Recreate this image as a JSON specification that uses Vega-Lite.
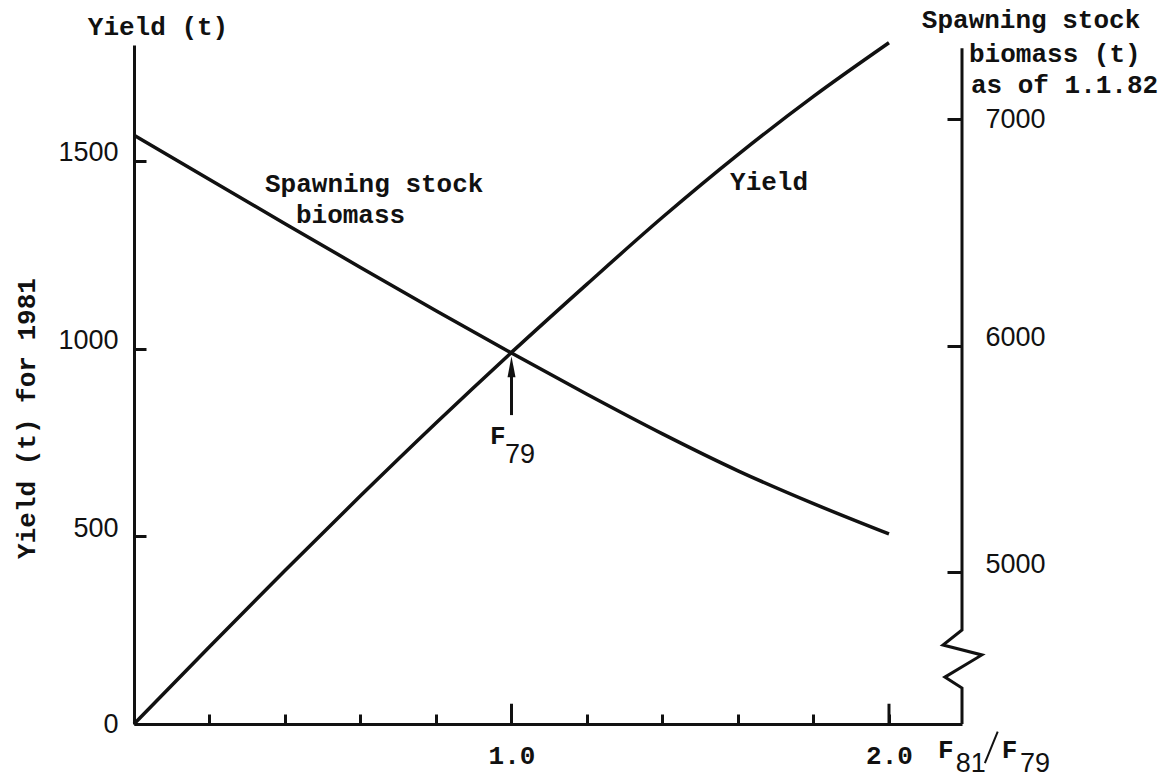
{
  "$schema": "https://vega.github.io/schema/vega-lite/v6.json",
  "width": 828,
  "height": 679,
  "autosize": "none",
  "padding": {"left": 134, "top": 45, "right": 213, "bottom": 56},
  "background": "white",
  "config": {
    "view": {"stroke": null},
    "axis": {"grid": false, "domainColor": "#111", "tickColor": "#111", "labelColor": "#111", "titleColor": "#111"}
  },
  "data": {"values": [{}]},
  "datasets": {
    "curves": [
      {"F": 0, "yield": 0, "ssb": 6929},
      {"F": 0.2, "yield": 206, "ssb": 6733},
      {"F": 0.4, "yield": 409, "ssb": 6538},
      {"F": 0.6, "yield": 608, "ssb": 6345},
      {"F": 0.8, "yield": 802, "ssb": 6154},
      {"F": 1.0, "yield": 990, "ssb": 5967},
      {"F": 1.2, "yield": 1172, "ssb": 5785},
      {"F": 1.4, "yield": 1350, "ssb": 5610},
      {"F": 1.6, "yield": 1517, "ssb": 5447},
      {"F": 1.8, "yield": 1672, "ssb": 5302},
      {"F": 2.0, "yield": 1815, "ssb": 5168}
    ],
    "raxis": [
      {"seq": 1, "F": 2.1934, "v": 7313},
      {"seq": 2, "F": 2.1934, "v": 4744},
      {"seq": 3, "F": 2.143, "v": 4678},
      {"seq": 4, "F": 2.246, "v": 4634},
      {"seq": 5, "F": 2.148, "v": 4536},
      {"seq": 6, "F": 2.1934, "v": 4488},
      {"seq": 7, "F": 2.1934, "v": 4329}
    ],
    "majorticks": [{"F": 1}, {"F": 2}]
  },
  "resolve": {"scale": {"y": "independent"}},
  "layer": [
    {
      "data": {"name": "curves"},
      "mark": {"type": "line", "color": "#111", "strokeWidth": 3.5, "interpolate": "monotone"},
      "encoding": {
        "x": {
          "field": "F", "type": "quantitative",
          "scale": {"domain": [0, 2.1934], "nice": false, "zero": false},
          "axis": {
            "title": null,
            "values": [0.2, 0.4, 0.6, 0.8, 1, 1.2, 1.4, 1.6, 1.8, 2],
            "tickSize": -10, "tickWidth": 3, "domainWidth": 3,
            "labelExpr": "datum.value == 1 || datum.value == 2 ? format(datum.value, '.1f') : ''",
            "labelFont": "Liberation Mono", "labelFontSize": 26, "labelFontWeight": "bold", "labelPadding": 28,
            "labelFlush": false, "labelBaseline": "top"
          }
        },
        "y": {
          "field": "yield", "type": "quantitative",
          "scale": {"domain": [0, 1809], "nice": false, "zero": false},
          "axis": {
            "orient": "left",
            "title": "Yield (t) for 1981",
            "values": [0, 500, 1000, 1500],
            "format": "d",
            "tickSize": -12, "tickWidth": 3, "domainWidth": 3,
            "labelFont": "Liberation Sans", "labelFontSize": 27, "labelPadding": 28,
            "labelOffset": {"condition": {"test": "datum.value == 0", "value": 0}, "value": -8},
            "titleFont": "Liberation Mono", "titleFontSize": 26, "titleFontWeight": "bold",
            "titleX": -108, "titleY": 373, "titleAngle": 270,
            "titleAlign": "center", "titleBaseline": "middle"
          }
        }
      }
    },
    {
      "data": {"name": "curves"},
      "mark": {"type": "line", "color": "#111", "strokeWidth": 3.5, "interpolate": "monotone"},
      "encoding": {
        "x": {"field": "F", "type": "quantitative"},
        "y": {
          "field": "ssb", "type": "quantitative",
          "scale": {"domain": [4329, 7327], "nice": false, "zero": false},
          "axis": {
            "orient": "right",
            "title": null,
            "values": [5000, 6000, 7000],
            "format": "d",
            "domain": false,
            "tickSize": -15, "tickWidth": 3,
            "labelFont": "Liberation Sans", "labelFontSize": 27, "labelPadding": 38,
            "labelOffset": {"condition": {"test": "datum.value == 7000", "value": 0}, "value": -8}
          }
        }
      }
    },
    {
      "data": {"name": "raxis"},
      "mark": {"type": "line", "color": "#111", "strokeWidth": 3, "clip": false},
      "encoding": {
        "x": {"field": "F", "type": "quantitative"},
        "y": {"field": "v", "type": "quantitative", "scale": {"domain": [4329, 7327], "nice": false, "zero": false}, "axis": null},
        "order": {"field": "seq", "type": "quantitative"}
      }
    },
    {
      "data": {"name": "majorticks"},
      "mark": {"type": "rule", "color": "#111", "strokeWidth": 3},
      "encoding": {
        "x": {"field": "F", "type": "quantitative"},
        "y": {"datum": 0, "scale": {"domain": [0, 1809], "nice": false, "zero": false}, "axis": null},
        "y2": {"datum": 54}
      }
    },
    {
      "mark": {"type": "rule", "color": "#111", "strokeWidth": 3},
      "encoding": {
        "x": {"datum": 1},
        "y": {"datum": 823, "scale": {"domain": [0, 1809], "nice": false, "zero": false}, "axis": null},
        "y2": {"datum": 935}
      }
    },
    {
      "mark": {"type": "point", "shape": "M0,-1L0.38,1L-0.38,1Z", "size": 441, "filled": true, "color": "#111", "opacity": 1},
      "encoding": {
        "x": {"datum": 1},
        "y": {"datum": 952, "scale": {"domain": [0, 1809], "nice": false, "zero": false}, "axis": null}
      }
    },
    {
      "mark": {"type": "rule", "color": "#111", "strokeWidth": 2},
      "encoding": {
        "x": {"datum": 2.254},
        "x2": {"datum": 2.288},
        "y": {"datum": -104, "scale": {"domain": [0, 1809], "nice": false, "zero": false}, "axis": null},
        "y2": {"datum": -20}
      }
    },
    {
      "mark": {"type": "text", "text": "Yield (t)", "font": "Liberation Mono", "fontSize": 26, "fontWeight": "bold", "align": "center", "baseline": "alphabetic", "color": "#111"},
      "encoding": {"x": {"datum": 0.0636}, "y": {"datum": 1836, "scale": {"domain": [0, 1809], "nice": false, "zero": false}, "axis": null}}
    },
    {
      "mark": {"type": "text", "text": "Spawning stock", "font": "Liberation Mono", "fontSize": 26, "fontWeight": "bold", "align": "left", "baseline": "alphabetic", "color": "#111"},
      "encoding": {"x": {"datum": 0.347}, "y": {"datum": 1418, "scale": {"domain": [0, 1809], "nice": false, "zero": false}, "axis": null}}
    },
    {
      "mark": {"type": "text", "text": "biomass", "font": "Liberation Mono", "fontSize": 26, "fontWeight": "bold", "align": "left", "baseline": "alphabetic", "color": "#111"},
      "encoding": {"x": {"datum": 0.429}, "y": {"datum": 1335, "scale": {"domain": [0, 1809], "nice": false, "zero": false}, "axis": null}}
    },
    {
      "mark": {"type": "text", "text": "Yield", "font": "Liberation Mono", "fontSize": 26, "fontWeight": "bold", "align": "left", "baseline": "alphabetic", "color": "#111"},
      "encoding": {"x": {"datum": 1.579}, "y": {"datum": 1423, "scale": {"domain": [0, 1809], "nice": false, "zero": false}, "axis": null}}
    },
    {
      "mark": {"type": "text", "text": "Spawning stock", "font": "Liberation Mono", "fontSize": 26, "fontWeight": "bold", "align": "left", "baseline": "alphabetic", "color": "#111"},
      "encoding": {"x": {"datum": 2.087}, "y": {"datum": 1855, "scale": {"domain": [0, 1809], "nice": false, "zero": false}, "axis": null}}
    },
    {
      "mark": {"type": "text", "text": "biomass (t)", "font": "Liberation Mono", "fontSize": 26, "fontWeight": "bold", "align": "left", "baseline": "alphabetic", "color": "#111"},
      "encoding": {"x": {"datum": 2.212}, "y": {"datum": 1763, "scale": {"domain": [0, 1809], "nice": false, "zero": false}, "axis": null}}
    },
    {
      "mark": {"type": "text", "text": "as of 1.1.82", "font": "Liberation Mono", "fontSize": 26, "fontWeight": "bold", "align": "left", "baseline": "alphabetic", "color": "#111"},
      "encoding": {"x": {"datum": 2.217}, "y": {"datum": 1681, "scale": {"domain": [0, 1809], "nice": false, "zero": false}, "axis": null}}
    },
    {
      "mark": {"type": "text", "text": "F", "font": "Liberation Mono", "fontSize": 26, "fontWeight": "bold", "align": "left", "baseline": "alphabetic", "color": "#111"},
      "encoding": {"x": {"datum": 0.943}, "y": {"datum": 746, "scale": {"domain": [0, 1809], "nice": false, "zero": false}, "axis": null}}
    },
    {
      "mark": {"type": "text", "text": "79", "font": "Liberation Sans", "fontSize": 27, "align": "left", "baseline": "alphabetic", "color": "#111"},
      "encoding": {"x": {"datum": 0.983}, "y": {"datum": 695, "scale": {"domain": [0, 1809], "nice": false, "zero": false}, "axis": null}}
    },
    {
      "mark": {"type": "text", "text": "F", "font": "Liberation Mono", "fontSize": 26, "fontWeight": "bold", "align": "left", "baseline": "alphabetic", "color": "#111"},
      "encoding": {"x": {"datum": 2.130}, "y": {"datum": -91, "scale": {"domain": [0, 1809], "nice": false, "zero": false}, "axis": null}}
    },
    {
      "mark": {"type": "text", "text": "81", "font": "Liberation Sans", "fontSize": 27, "align": "left", "baseline": "alphabetic", "color": "#111"},
      "encoding": {"x": {"datum": 2.177}, "y": {"datum": -127, "scale": {"domain": [0, 1809], "nice": false, "zero": false}, "axis": null}}
    },
    {
      "mark": {"type": "text", "text": "F", "font": "Liberation Mono", "fontSize": 26, "fontWeight": "bold", "align": "left", "baseline": "alphabetic", "color": "#111"},
      "encoding": {"x": {"datum": 2.299}, "y": {"datum": -91, "scale": {"domain": [0, 1809], "nice": false, "zero": false}, "axis": null}}
    },
    {
      "mark": {"type": "text", "text": "79", "font": "Liberation Sans", "fontSize": 27, "align": "left", "baseline": "alphabetic", "color": "#111"},
      "encoding": {"x": {"datum": 2.347}, "y": {"datum": -127, "scale": {"domain": [0, 1809], "nice": false, "zero": false}, "axis": null}}
    }
  ]
}
